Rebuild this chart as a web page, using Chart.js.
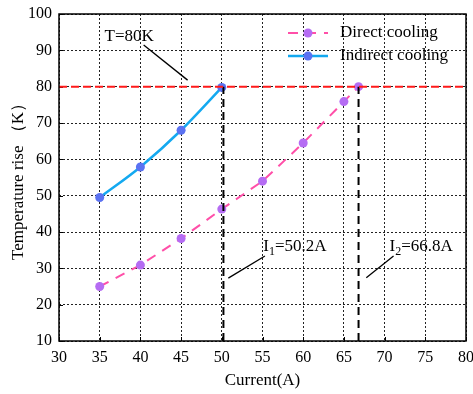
<!DOCTYPE html>
<html>
<head>
<meta charset="utf-8">
<script src="https://cdn.jsdelivr.net/npm/chart.js@4"></script>
<style>
  body { margin: 0; background: #fff; }
  #wrap { width: 473px; height: 394px; }
</style>
</head>
<body>
<div id="wrap"><canvas id="chart"></canvas></div>
<script>
var currents = [35, 40, 45, 50, 55, 60, 65, 66.8];
var directTemp = [25, 30.9, 38.2, 46.3, 54, 64.5, 75.9, 80];
var indirectCurrents = [35, 40, 45, 50];
var indirectTemp = [49.5, 57.9, 68, 79.8];

var xTicks = [30, 35, 40, 45, 50, 55, 60, 65, 70, 75, 80];
var yTicks = [10, 20, 30, 40, 50, 60, 70, 80, 90, 100];

var limitTemp = 80;
var i1 = 50.2;
var i2 = 66.8;

var font = "'Liberation Serif', 'Times New Roman', serif";

function pts(xs, ys) {
  return xs.map(function (x, i) { return { x: x, y: ys[i] }; });
}

// annotations: text anchor and leader line, in data coordinates
var notes = [
  { text: "T=80K", sub: "", at: [35.6, 93.7], line: [[40.4, 91.5], [45.8, 81.8]] },
  { text: "I", sub: "1", rest: "=50.2A", at: [55.1, 36.0], line: [[50.8, 27.3], [55.3, 33.4]] },
  { text: "I", sub: "2", rest: "=66.8A", at: [70.6, 36.0], line: [[67.75, 27.4], [71.1, 33.4]] },
];

var extras = {
  id: "extras",
  beforeDatasetsDraw: function (chart) {
    var c = chart.ctx, a = chart.chartArea;
    var xs = chart.scales.x, ys = chart.scales.y;
    c.save();
    c.strokeStyle = "#000";
    c.lineWidth = 1.3;
    notes.forEach(function (n) {
      c.beginPath();
      c.moveTo(xs.getPixelForValue(n.line[0][0]), ys.getPixelForValue(n.line[0][1]));
      c.lineTo(xs.getPixelForValue(n.line[1][0]), ys.getPixelForValue(n.line[1][1]));
      c.stroke();
    });
    // inner tick marks
    c.lineWidth = 1;
    xTicks.forEach(function (v) {
      var x = Math.round(xs.getPixelForValue(v)) + 0.5;
      c.beginPath();
      c.moveTo(x, a.bottom);
      c.lineTo(x, a.bottom - 4);
      c.stroke();
    });
    yTicks.forEach(function (v) {
      var y = Math.round(ys.getPixelForValue(v)) + 0.5;
      c.beginPath();
      c.moveTo(a.left, y);
      c.lineTo(a.left + 4, y);
      c.stroke();
    });
    c.restore();
  },
  afterDraw: function (chart) {
    var c = chart.ctx, a = chart.chartArea;
    var xs = chart.scales.x, ys = chart.scales.y;
    c.save();
    c.strokeStyle = "#000";
    c.lineWidth = 1.5;
    c.strokeRect(a.left, a.top, a.right - a.left, a.bottom - a.top);

    c.fillStyle = "#000";
    c.textBaseline = "middle";
    c.textAlign = "left";
    notes.forEach(function (n) {
      var x = xs.getPixelForValue(n.at[0]);
      var y = ys.getPixelForValue(n.at[1]);
      c.font = "17px " + font;
      c.fillText(n.text, x, y);
      if (n.sub) {
        var w = c.measureText(n.text).width;
        c.font = "12px " + font;
        c.fillText(n.sub, x + w, y + 5);
        var w2 = c.measureText(n.sub).width;
        c.font = "17px " + font;
        c.fillText(n.rest, x + w + w2, y);
      }
    });

    // legend
    var items = chart.data.datasets.filter(function (d) { return d.inLegend; });
    items.forEach(function (d, i) {
      var y = 33 + i * 23;
      var x0 = 288, x1 = 328;
      c.beginPath();
      c.setLineDash(d.borderDash || []);
      c.strokeStyle = d.borderColor;
      c.lineWidth = d.borderWidth;
      c.moveTo(x0, y);
      c.lineTo(x1, y);
      c.stroke();
      c.setLineDash([]);
      c.beginPath();
      c.fillStyle = d.pointBackgroundColor;
      c.arc((x0 + x1) / 2, y, 4.5, 0, Math.PI * 2);
      c.fill();
      c.fillStyle = "#000";
      c.font = "17px " + font;
      c.fillText(d.label, 340, y);
    });
    c.restore();
  },
};

new Chart(document.getElementById("chart"), {
  type: "line",
  data: {
    datasets: [
      {
        label: "T limit",
        data: pts([30, 80], [limitTemp, limitTemp]),
        borderColor: "#ff1a1a",
        borderWidth: 2,
        borderDash: [8, 4],
        pointRadius: 0,
      },
      {
        label: "I1",
        data: pts([i1, i1], [10, limitTemp]),
        borderColor: "#000",
        borderWidth: 2,
        borderDash: [8, 5],
        pointRadius: 0,
      },
      {
        label: "I2",
        data: pts([i2, i2], [10, limitTemp]),
        borderColor: "#000",
        borderWidth: 2,
        borderDash: [8, 5],
        pointRadius: 0,
      },
      {
        label: "Direct cooling",
        inLegend: true,
        data: pts(currents, directTemp),
        borderColor: "#ff4fa8",
        borderWidth: 2,
        borderDash: [10, 8],
        pointRadius: 4.5,
        pointBackgroundColor: "#b56cf3",
        pointBorderWidth: 0,
        tension: 0,
      },
      {
        label: "Indirect cooling",
        inLegend: true,
        data: pts(indirectCurrents, indirectTemp),
        borderColor: "#14a9f0",
        borderWidth: 2.5,
        pointRadius: 4.5,
        pointBackgroundColor: "#5b72f2",
        pointBorderWidth: 0,
        cubicInterpolationMode: "monotone",
      },
    ],
  },
  options: {
    responsive: true,
    maintainAspectRatio: false,
    animation: false,
    layout: { padding: { left: 0, right: 7, top: 14, bottom: 0 } },
    plugins: {
      legend: { display: false },
      tooltip: { enabled: false },
    },
    scales: {
      x: {
        type: "linear",
        min: 30,
        max: 80,
        afterBuildTicks: function (s) { s.ticks = xTicks.map(function (v) { return { value: v }; }); },
        afterFit: function (s) { s.height = 53; s.paddingLeft = 0; s.paddingRight = 0; },
        grid: { color: "#222", lineWidth: 1, drawTicks: false },
        border: { display: false, dash: [2, 2] },
        ticks: { color: "#000", padding: 7, maxRotation: 0, font: { family: font, size: 16 } },
        title: { display: true, text: "Current(A)", color: "#000", padding: { top: 4, bottom: 3 }, font: { family: font, size: 17 } },
      },
      y: {
        min: 10,
        max: 100,
        afterBuildTicks: function (s) { s.ticks = yTicks.map(function (v) { return { value: v }; }); },
        afterFit: function (s) { s.width = 59; s.paddingTop = 0; s.paddingBottom = 0; },
        grid: { color: "#222", lineWidth: 1, drawTicks: false },
        border: { display: false, dash: [2, 2] },
        ticks: { color: "#000", padding: 7, font: { family: font, size: 16 } },
        title: { display: true, text: "Temperature rise （K）", color: "#000", padding: { top: 8, bottom: 0 }, font: { family: font, size: 17 } },
      },
    },
  },
  plugins: [extras],
});
</script>
</body>
</html>
